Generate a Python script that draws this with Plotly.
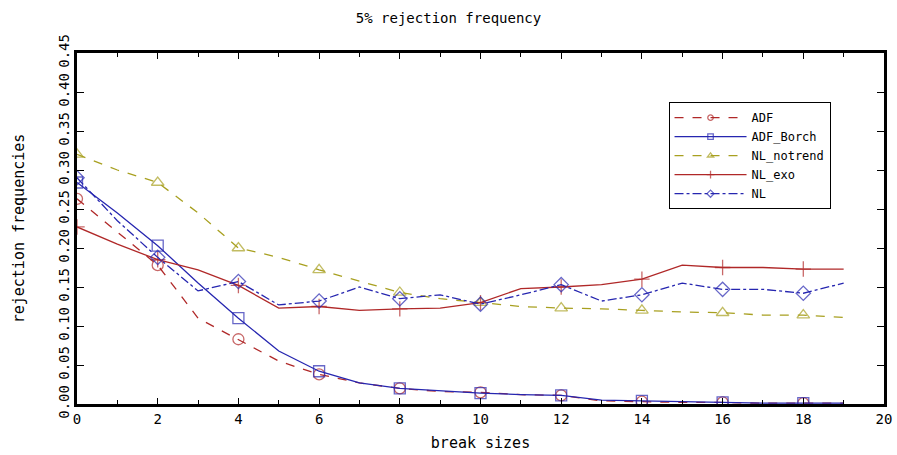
import plotly.graph_objects as go

x = list(range(20))
adf = [0.263, 0.22, 0.178, 0.11, 0.083, 0.055, 0.038, 0.027, 0.020, 0.016,
       0.015, 0.012, 0.011, 0.004, 0.003, 0.002, 0.002, 0.001, 0.001, 0.001]
adf_borch = [0.284, 0.245, 0.203, 0.155, 0.110, 0.068, 0.042, 0.027, 0.020, 0.017,
             0.014, 0.012, 0.011, 0.005, 0.004, 0.003, 0.002, 0.001, 0.001, 0.001]
nl_notrend = [0.320, 0.300, 0.284, 0.245, 0.200, 0.188, 0.172, 0.157, 0.143, 0.135,
              0.130, 0.125, 0.123, 0.122, 0.120, 0.118, 0.117, 0.114, 0.114, 0.111]
nl_exo = [0.227, 0.205, 0.185, 0.172, 0.152, 0.123, 0.125, 0.120, 0.122, 0.123,
          0.130, 0.148, 0.150, 0.153, 0.160, 0.178, 0.175, 0.175, 0.173, 0.173]
nl = [0.290, 0.235, 0.188, 0.145, 0.157, 0.127, 0.132, 0.150, 0.135, 0.140,
      0.128, 0.140, 0.153, 0.132, 0.140, 0.155, 0.147, 0.147, 0.142, 0.155]

RED = "#b02828"
BLUE = "#2626b0"
OLIVE = "#a8a020"
FONT = "DejaVu Sans Mono"

sizes = [11 if i % 2 == 0 else 0 for i in x]

series = [
    ("ADF", adf, RED, "dash", "circle-open"),
    ("ADF_Borch", adf_borch, BLUE, "solid", "square-open"),
    ("NL_notrend", nl_notrend, OLIVE, "dash", "triangle-up-open"),
    ("NL_exo", nl_exo, RED, "solid", "cross-thin-open"),
    ("NL", nl, BLUE, "dashdot", "diamond-open"),
]

fig = go.Figure()
for name, ys, col, dash, sym in series:
    fig.add_trace(go.Scatter(
        x=x, y=ys, name=name, mode="lines+markers",
        line=dict(color=col, width=1.3, dash=dash),
        marker=dict(symbol=sym, size=sizes, color=col, line=dict(color=col, width=1.3)),
    ))

fig.update_layout(
    width=897, height=455,
    margin=dict(l=77, r=13, t=53, b=51),
    paper_bgcolor="white", plot_bgcolor="white",
    font=dict(family=FONT, size=13, color="black"),
    title=dict(text="5% rejection frequency", x=0.5, xanchor="center", y=0.96, yanchor="middle",
               font=dict(family=FONT, size=14)),
    showlegend=True,
    legend=dict(x=0.733, y=0.86, xanchor="left", yanchor="top",
                bgcolor="white", bordercolor="black", borderwidth=1,
                font=dict(family=FONT, size=12), tracegroupgap=0, itemwidth=72),
)
fig.update_xaxes(
    range=[0, 20], tickvals=list(range(0, 21, 2)), ticks="inside", ticklen=6,
    tickcolor="black", showline=True, linecolor="black", linewidth=2.5, mirror="ticks",
    showgrid=False, zeroline=False, tickfont=dict(size=14), automargin=False,
    minor=dict(tickvals=list(range(1, 20, 2)), ticks="inside", ticklen=4, tickcolor="black"),
    title=dict(text="break sizes", font=dict(family=FONT, size=15), standoff=12),
)
fig.update_yaxes(
    range=[0, 0.45], tickvals=[i * 0.05 for i in range(10)],
    ticktext=["0.00", "0.05", "0.10", "0.15", "0.20", "0.25", "0.30", "0.35", "0.40", "0.45"],
    tickangle=-90, ticks="inside", ticklen=7, tickcolor="black", tickfont=dict(size=14),
    showline=True, linecolor="black", linewidth=2.5, mirror="ticks", automargin=False,
    showgrid=False, zeroline=False,
    title=dict(text="rejection frequencies", font=dict(family=FONT, size=15), standoff=28),
)

fig.write_html("out.html")
